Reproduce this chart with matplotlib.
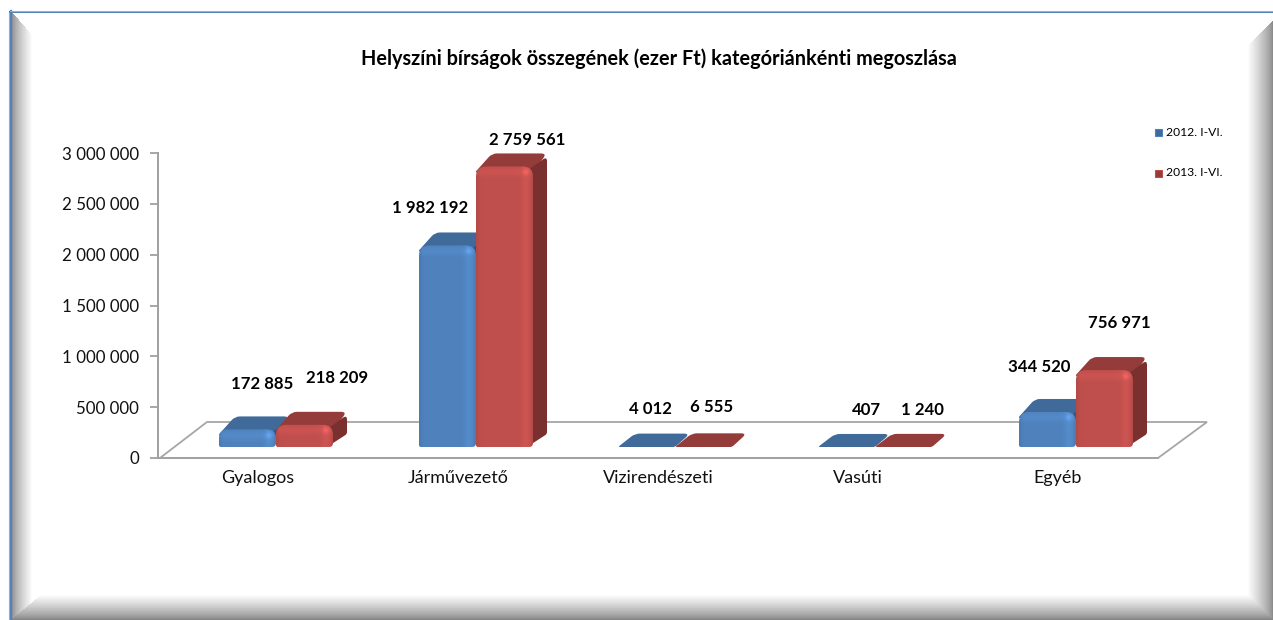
import numpy as np
from matplotlib import pyplot as plt
from matplotlib.lines import Line2D
from matplotlib.patches import PathPatch
from matplotlib.path import Path

plt.rcParams['font.family'] = ['Lato', 'DejaVu Sans']

W, H = 1273, 620

# adatok
categories = ['Gyalogos', 'Járművezető', 'Vizirendészeti', 'Vasúti', 'Egyéb']
series_names = ['2012. I-VI.', '2013. I-VI.']
values_2012 = [172885, 1982192, 4012, 407, 344520]
values_2013 = [218209, 2759561, 6555, 1240, 756971]
yticks = [0, 500000, 1000000, 1500000, 2000000, 2500000, 3000000]
title = 'Helyszíni bírságok összegének (ezer Ft) kategóriánkénti megoszlása'

# feliratok helye pixelben (kozeppont)
label_pos_2012 = [(262, 384), (430, 208), (650, 409), (866, 410), (1039, 367)]
label_pos_2013 = [(337, 378), (527, 140), (712, 407), (922, 410), (1119, 323)]

BLUE = dict(front=(0.31, 0.51, 0.74), top='#3F6A9A', side='#33557d')
RED = dict(front=(0.75, 0.31, 0.30), top='#943C39', side='#7A302E')

fig = plt.figure(figsize=(W / 100, H / 100), dpi=100, facecolor='white')


def fmt(v):
    return f'{v:,}'.replace(',', ' ')


# hatter: keret es a szelek arnyekolasa
yy, xx = np.mgrid[0:H, 0:W]
shade = np.ones((H, W))
d_left = xx - 12
d_right = W - 1 - xx
d_bottom = H - 1 - yy
left = (d_left >= 0) & (d_left < 20) & (d_left < (yy - 12) * 0.87) & (d_left < d_bottom * 1.2)
right = (d_right < 25) & (d_right < yy - 20) & (d_right < d_bottom)
bottom = (d_bottom < 25) & (d_bottom <= d_right) & (d_bottom * 1.2 <= d_left + 1) & (d_left >= 0)
shade[left] = 0.58 + 0.42 * (d_left[left] / 20) ** 0.8
shade[right] = 0.55 + 0.45 * (d_right[right] / 25) ** 0.8
shade[bottom] = 0.52 + 0.48 * (d_bottom[bottom] / 25) ** 0.8
shade[yy < 11] = 1
shade[xx < 9] = 1

bg = fig.add_axes([0, 0, 1, 1], zorder=0)
bg.imshow(shade, cmap='gray', vmin=0, vmax=1, aspect='auto', extent=(0, W, H, 0), interpolation='nearest')
bg.add_line(Line2D([10.5, 10.5], [11, H], color='#4F81BD', lw=1.6))
bg.add_line(Line2D([9, 9], [11, H], color='#A9A9A9', lw=0.8))
bg.add_line(Line2D([10, W], [11.8, 11.8], color='#4F81BD', lw=1.4))
bg.add_line(Line2D([10, W], [10.5, 10.5], color='#B5B5B5', lw=0.6))
bg.set_xlim(0, W)
bg.set_ylim(H, 0)
bg.axis('off')

# fo tengely: 0 = 458 px, 3 000 000 = 153 px, kategoriak 200 px szelesek
ax = fig.add_axes([158 / W, 1 - 458 / H, 1000 / W, 305 / H], zorder=1)
ax.patch.set_alpha(0)
ax.set_xlim(-0.5, 4.5)
ax.set_ylim(0, 3000000)
ax.set_yticks(yticks)
ax.set_yticklabels([fmt(v) for v in yticks], fontsize=12.2, color='#111111')
ax.set_xticks(range(len(categories)))
ax.set_xticklabels(categories, fontsize=13, color='#111111')
ax.tick_params(axis='y', length=6, width=1.3, color='#A0A0A0', pad=7.5)
ax.tick_params(axis='x', length=0, pad=8.5)
for s in ['top', 'right']:
    ax.spines[s].set_visible(False)
for s in ['left', 'bottom']:
    ax.spines[s].set_color('#A0A0A0')
    ax.spines[s].set_linewidth(1.4)

# pixel koordinatas reteg a 3D hatasu oszlopokhoz
ov = fig.add_axes([0, 0, 1, 1], zorder=2)
ov.patch.set_alpha(0)
ov.set_xlim(0, W)
ov.set_ylim(H, 0)
ov.axis('off')

BAR_W = 57 / 200
LIFT = 11  # a padlo eleje es az oszlop alja kozott
DX, DY = 14, 13


def to_px(x, v):
    return ov.transData.inverted().transform(ax.transData.transform((x, v)))


# padlo
fl, fy = to_px(-0.5, 0)
fr, _ = to_px(4.5, 0)
floor_back = fy - 36
ov.add_line(Line2D([fl + 2, fl + 49, fr + 49, fr], [fy, floor_back, floor_back, fy],
                   color='#A6A6A6', lw=1.3, solid_joinstyle='miter'))


def rounded_poly(pts, radii):
    # zart sokszog lekerekitett sarkokkal
    pts = np.array(pts, float)
    n = len(pts)
    verts, codes = [], []
    for k in range(n):
        p, prev, nxt = pts[k], pts[k - 1], pts[(k + 1) % n]
        r = radii[k]
        a = p + (prev - p) / np.linalg.norm(prev - p) * min(r, np.linalg.norm(prev - p) / 2)
        b = p + (nxt - p) / np.linalg.norm(nxt - p) * min(r, np.linalg.norm(nxt - p) / 2)
        verts += [a, p, b]
        codes += [Path.MOVETO if k == 0 else Path.LINETO, Path.CURVE3, Path.CURVE3]
    verts.append(verts[0])
    codes.append(Path.CLOSEPOLY)
    return Path(verts, codes)


def draw_bar(i, shift, value, colors, z):
    x0, top = to_px(i + shift - BAR_W / 2, value)
    x1, base = to_px(i + shift + BAR_W / 2, 0)
    base -= LIFT
    top -= LIFT
    h = base - top
    drop = min(h, 6)
    # felso lap
    ov.add_patch(PathPatch(rounded_poly([(x0 - 1, top + drop), (x0 + DX + 2, top - DY), (x1 + DX, top - DY), (x1 - 1, top + drop)],
                                        [2, 5, 6, 2]), fc=colors['top'], ec='none', zorder=z))
    if h < 2:
        return
    # oldallap
    ov.add_patch(PathPatch(rounded_poly([(x1 - 8, top + 6), (x1 + DX, top - DY + 3), (x1 + DX, base - DY), (x1 - 6, base)],
                                        [1, 5, 2, 1]), fc=colors['side'], ec='none', zorder=z + 0.05))
    # eleje: vizszintes szinatmenet, a jobb felso sarok fele csillanas
    nx, ny = 57, max(int(h), 2)
    u = np.linspace(0, 1, nx)[None, :]
    v = (np.arange(ny) + 0.5)[:, None]
    gain = 1 + 0.07 * np.exp(-((u - 0.88) / 0.08) ** 2) - 0.06 * np.exp(-(u / 0.05) ** 2) - 0.06 * np.exp(-((1 - u) / 0.03) ** 2)
    gain = gain + 0.06 * np.exp(-((v - 6) / 4) ** 2) + 0.15 * np.exp(-((u - 0.88) / 0.05) ** 2 - ((v - 6) / 3) ** 2)
    img = np.clip(np.dstack([colors['front'][k] * gain for k in range(3)]), 0, 1)
    im = ov.imshow(img, aspect='auto', extent=(x0, x1, base, top), zorder=z + 0.1, interpolation='bilinear')
    r = min(10, h / 2)
    corners = [(x0, top), (x1, top), (x1, base), (x0, base)]
    im.set_clip_path(PathPatch(rounded_poly(corners, [r, r, min(4, r), min(2, r)]), transform=ov.transData))


for i in range(len(categories)):
    draw_bar(i, -10.5 / 200, values_2012[i], BLUE, 3)
for i in range(len(categories)):
    draw_bar(i, 46.5 / 200, values_2013[i], RED, 4)
ov.set_xlim(0, W)
ov.set_ylim(H, 0)

# ertekfeliratok
for vals, pos in [(values_2012, label_pos_2012), (values_2013, label_pos_2013)]:
    for v, (px, py) in zip(vals, pos):
        ov.text(px, py, fmt(v), ha='center', va='center', fontsize=12.1, fontweight='bold', color='black', zorder=6)

ov.text(659, 59, title, ha='center', va='center', fontsize=14.3, fontweight='bold', color='black', zorder=6)

# jelmagyarazat
for name, py, c in [(series_names[0], 132, BLUE), (series_names[1], 173, RED)]:
    ov.add_patch(plt.Rectangle((1155, py - 3.5), 7, 7, fc=c['top'], ec=c['front'], lw=0.8, zorder=6))
    ov.text(1166, py, name, ha='left', va='center', fontsize=8.7, color='black', zorder=6)

fig.savefig('out.png', dpi=100)
